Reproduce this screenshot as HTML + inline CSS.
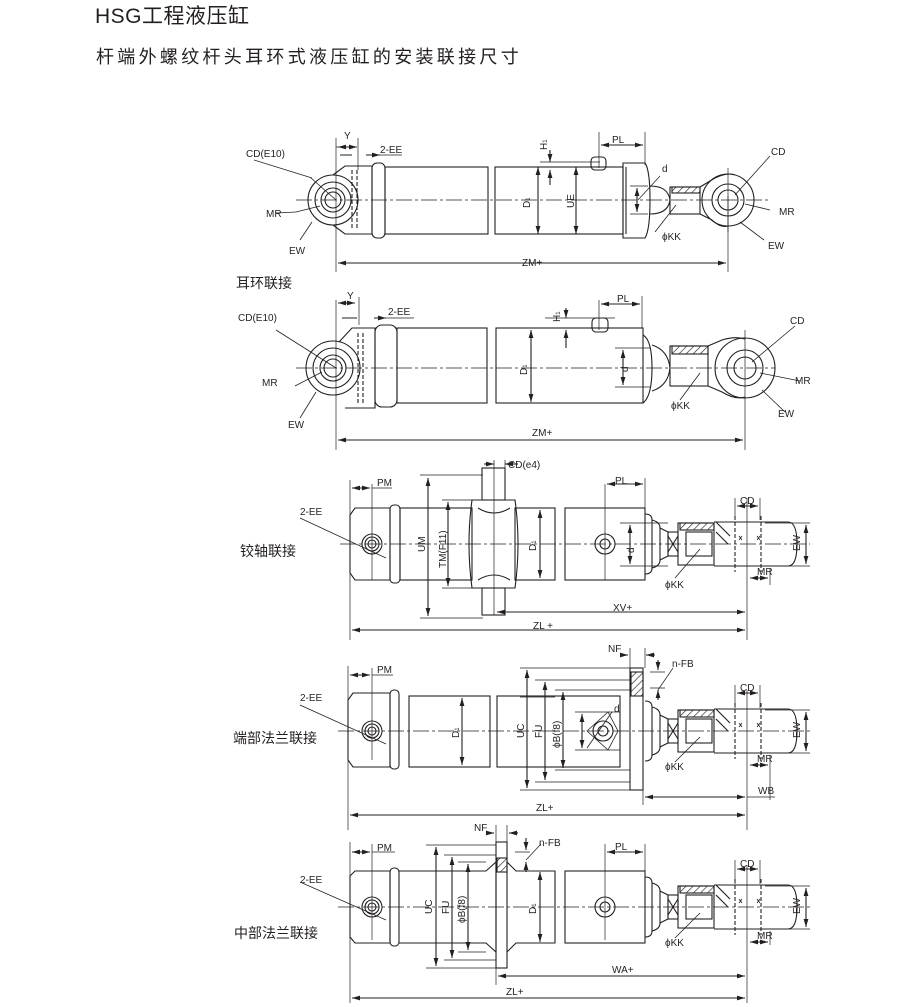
<!DOCTYPE html>
<html><head><meta charset="utf-8"><style>
html,body{margin:0;padding:0;background:#fff;}
body{width:908px;height:1007px;overflow:hidden;position:relative;font-family:"Liberation Sans","Noto Sans CJK SC",sans-serif;color:#231f20;}
.t1{position:absolute;left:95px;top:0px;font-size:21px;letter-spacing:0.5px;}
.t2{position:absolute;left:96px;top:43px;font-size:18px;letter-spacing:3.3px;}
svg{position:absolute;left:0;top:0;}
svg text{font-family:"Liberation Sans",sans-serif;font-size:10px;fill:#231f20;}
svg .cn{font-family:"Liberation Sans","Noto Sans CJK SC",sans-serif;font-size:14px;}
</style></head><body>
<div class="t1">HSG工程液压缸</div>
<div class="t2">杆端外螺纹杆头耳环式液压缸的安装联接尺寸</div>
<svg width="908" height="1007" viewBox="0 0 908 1007">
<defs>
<marker id="a" viewBox="0 0 10 6" refX="10" refY="3" markerWidth="8" markerHeight="5" orient="auto-start-reverse" markerUnits="userSpaceOnUse"><path d="M0,0L10,3L0,6z" fill="#231f20"/></marker>
<pattern id="h" width="5" height="5" patternUnits="userSpaceOnUse" patternTransform="rotate(45)"><line x1="0" y1="0" x2="0" y2="5" stroke="#231f20" stroke-width="1.3"/></pattern>
<g id="rodend" fill="none" stroke="#231f20" stroke-width="1.1">
 <path d="M645,-30 Q652,-30 652,-24 L652,24 Q652,30 645,30"/>
 <path d="M652,-24 Q660,-22 660,-16 L660,16 Q660,22 652,24"/>
 <path d="M660,-16 L668,-12 L668,12 L660,16"/>
 <rect x="668" y="-12" width="10" height="24"/>
 <path d="M668,-8 L678,8 M678,-8 L668,8"/>
 <rect x="678" y="-21" width="36" height="42"/>
 <rect x="680" y="-21" width="34" height="7" fill="url(#h)"/>
 <rect x="686" y="-12" width="26" height="24"/>
 <path d="M714,-22 L788,-22 Q797,-22 797,0 Q797,22 788,22 L714,22"/>
 <path d="M716,-22 L730,-8 M716,-12 L728,0"/>
 <path d="M735,-28 V28 M761,-28 V28" stroke-dasharray="4 2"/>
 <path d="M739,-8 l3,4 m0,-4 l-3,4 M757,-8 l3,4 m0,-4 l-3,4" stroke-width="0.8"/>
</g>
</defs>
<g fill="none" stroke="#231f20" stroke-width="1.1">
<!-- ============ Diagram 1 ============ -->
<path d="M296,200 H770" stroke-width="0.8" stroke-dasharray="16 3 3 3"/>
<circle cx="333" cy="200" r="25"/><circle cx="333" cy="200" r="18"/><circle cx="333" cy="200" r="12"/><circle cx="333" cy="200" r="8"/>
<path d="M333,175 L345,166 L372,166 L372,234 L345,234 L333,225"/>
<path d="M352,170 V230 M357,170 V230" stroke-dasharray="4 2"/>
<rect x="372" y="163" width="13" height="75" rx="5"/>
<rect x="385" y="167" width="103" height="67"/>
<rect x="495" y="167" width="128" height="67"/>
<path d="M623,163 L645,163 Q650,170 650,200 Q650,230 645,238 L623,238 Z"/>
<path d="M626,167 V234"/>
<rect x="591" y="157" width="15" height="13" rx="4"/>
<path d="M650,186 Q668,186 670,200 Q668,214 650,214"/>
<rect x="670" y="187" width="30" height="27"/>
<rect x="672" y="187" width="28" height="6" fill="url(#h)"/>
<path d="M700,187 L715,178 Q728,172 735,175 M700,214 L712,220 Q720,228 728,226"/>
<circle cx="728" cy="200" r="26"/><circle cx="728" cy="200" r="16"/><circle cx="728" cy="200" r="10"/>
<path d="M728,168 V232" stroke-width="0.7"/>
<path d="M336,138 V272 M728,196 V272" stroke-width="0.7"/>
<path d="M338,263 H726" marker-start="url(#a)" marker-end="url(#a)"/>
<path d="M336,147 H345 M358,138 V170" stroke-width="0.7"/>
<path d="M338,147 H357" marker-start="url(#a)" marker-end="url(#a)"/>
<path d="M340,155 H352 M366,155 H380" marker-end="url(#a)" stroke-width="0.9"/>
<path d="M380,155 H402" stroke-width="0.7"/>
<path d="M538,167 V234" marker-start="url(#a)" marker-end="url(#a)"/>
<path d="M576,167 V234" marker-start="url(#a)" marker-end="url(#a)"/>
<path d="M550,150 V162" marker-end="url(#a)"/><path d="M550,185 V170" marker-end="url(#a)"/>
<path d="M540,162 H600" stroke-width="0.7"/>
<path d="M599,132 V168 M645,132 V165" stroke-width="0.7"/>
<path d="M601,145 H643" marker-start="url(#a)" marker-end="url(#a)"/>
<path d="M630,186 H648 M630,214 H648" stroke-width="0.7"/>
<path d="M637,188 V212" marker-start="url(#a)" marker-end="url(#a)"/>
<path d="M638,200 L660,176" stroke-width="0.7"/>
<path d="M311,178 L336,200 M296,212 L320,206 M300,240 L312,222 M655,232 L676,205 M770,156 L735,195 M770,210 L745,204 M764,240 L740,222" stroke-width="0.8"/>
<path d="M254,160 L312,178 M276,213 L296,212" stroke-width="0.8"/>

<!-- ============ Diagram 2 ============ -->
<path d="M296,368 H775" stroke-width="0.8" stroke-dasharray="16 3 3 3"/>
<circle cx="333" cy="368" r="27"/><circle cx="333" cy="368" r="20"/><circle cx="333" cy="368" r="13"/><circle cx="333" cy="368" r="9"/>
<path d="M339,342 L352,328 L375,328 L375,408 L345,408"/>
<path d="M358,333 V405 M363,333 V405" stroke-dasharray="4 2"/>
<rect x="375" y="325" width="22" height="82" rx="7"/>
<rect x="397" y="328" width="90" height="75"/>
<rect x="496" y="328" width="147" height="75"/>
<path d="M643,335 Q652,340 652,368 Q652,396 643,403"/>
<rect x="592" y="318" width="16" height="14" rx="4"/>
<path d="M652,345 Q668,350 670,368 Q668,386 652,391"/>
<rect x="670" y="346" width="38" height="40"/>
<rect x="672" y="346" width="36" height="8" fill="url(#h)"/>
<path d="M708,346 L722,340 Q735,336 745,339 M708,386 L722,392 Q735,400 745,397"/>
<circle cx="745" cy="368" r="30"/><circle cx="745" cy="368" r="18"/><circle cx="745" cy="368" r="11"/>
<path d="M745,330 V450" stroke-width="0.7"/>
<path d="M336,300 V450" stroke-width="0.7"/>
<path d="M338,440 H743" marker-start="url(#a)" marker-end="url(#a)"/>
<path d="M338,303 H355" marker-start="url(#a)" marker-end="url(#a)"/>
<path d="M359,297 V325" stroke-width="0.7"/>
<path d="M342,318 H357 M374,318 H386" marker-end="url(#a)" stroke-width="0.9"/><path d="M386,318 H414" stroke-width="0.7"/>
<path d="M531,330 V402" marker-start="url(#a)" marker-end="url(#a)"/>
<path d="M566,308 V318" marker-end="url(#a)"/><path d="M566,348 V330" marker-end="url(#a)"/>
<path d="M545,318 H615" stroke-width="0.7"/>
<path d="M599,300 V330 M642,296 V328" stroke-width="0.7"/>
<path d="M601,304 H640" marker-start="url(#a)" marker-end="url(#a)"/>
<path d="M615,348 H650 M615,387 H650" stroke-width="0.7"/>
<path d="M623,350 V385" marker-start="url(#a)" marker-end="url(#a)"/>
<path d="M680,400 L700,373 M795,326 L752,362 M800,381 L760,373 M785,412 L762,390 M276,330 L336,368 M295,386 L322,372 M300,418 L316,392" stroke-width="0.8"/>

<!-- ============ Diagram 3 ============ -->
<path d="M340,544 H810" stroke-width="0.8" stroke-dasharray="16 3 3 3"/>
<path d="M350,515 L355,508 L390,508 L390,580 L355,580 L350,573 Z"/>
<rect x="390" y="505" width="10" height="78" rx="4"/>
<rect x="400" y="508" width="72" height="72"/>
<path d="M472,500 Q466,544 472,588 L515,588 Q521,544 515,500 Z"/>
<path d="M478,508 Q494,518 510,508 M478,580 Q494,570 510,580"/>
<rect x="482" y="468" width="23" height="32"/><rect x="482" y="588" width="23" height="27"/>
<rect x="515" y="508" width="40" height="72"/>
<rect x="565" y="508" width="80" height="72"/>
<circle cx="372" cy="544" r="10"/><circle cx="372" cy="544" r="7"/><circle cx="372" cy="544" r="4"/>
<circle cx="605" cy="544" r="10"/><circle cx="605" cy="544" r="5"/>
<use href="#rodend" transform="translate(0,544)"/>
<path d="M350,480 V640 M372,484 V580 M605,484 V580 M645,478 V512 M747,498 V640 M494,460 V615 M505,460 V470" stroke-width="0.7"/>
<path d="M352,488 H370" marker-start="url(#a)" marker-end="url(#a)"/><path d="M372,488 H392" stroke-width="0.7"/>
<path d="M484,464 H494" marker-end="url(#a)"/><path d="M518,464 H505" marker-end="url(#a)"/>
<path d="M420,475 H483 M420,618 H483 M442,500 H472 M442,588 H472" stroke-width="0.7"/>
<path d="M428,478 V616" marker-start="url(#a)" marker-end="url(#a)"/>
<path d="M448,502 V586" marker-start="url(#a)" marker-end="url(#a)"/>
<path d="M540,510 V578" marker-start="url(#a)" marker-end="url(#a)"/>
<path d="M607,484 H643" marker-start="url(#a)" marker-end="url(#a)"/>
<path d="M620,523 H668 M620,566 H668" stroke-width="0.7"/>
<path d="M630,525 V564" marker-start="url(#a)" marker-end="url(#a)"/>
<path d="M735,498 V520 M760,498 V520 M765,523 H810 M765,566 H810 M770,568 V585" stroke-width="0.7"/>
<path d="M737,506 H758" marker-start="url(#a)" marker-end="url(#a)"/>
<path d="M806,525 V564" marker-start="url(#a)" marker-end="url(#a)"/>
<path d="M750,578 H768" marker-start="url(#a)" marker-end="url(#a)"/>
<path d="M497,612 H745" marker-start="url(#a)" marker-end="url(#a)"/>
<path d="M352,630 H745" marker-start="url(#a)" marker-end="url(#a)"/>
<path d="M300,518 L386,558 M675,578 L700,549" stroke-width="0.8"/>

<!-- ============ Diagram 4 ============ -->
<path d="M338,731 H810" stroke-width="0.8" stroke-dasharray="16 3 3 3"/>
<path d="M348,700 L353,693 L390,693 L390,767 L353,767 L348,760 Z"/>
<rect x="390" y="690" width="9" height="79" rx="4"/>
<rect x="409" y="696" width="81" height="71"/>
<rect x="497" y="696" width="123" height="71"/>
<rect x="630" y="668" width="13" height="122"/>
<rect x="631" y="672" width="12" height="24" fill="url(#h)"/>
<path d="M587,731 L608,712 L618,731 L608,750 Z" stroke-width="0.8"/>
<circle cx="603" cy="731" r="10"/><circle cx="603" cy="731" r="5"/>
<circle cx="372" cy="731" r="10"/><circle cx="372" cy="731" r="7"/><circle cx="372" cy="731" r="4"/>
<use href="#rodend" transform="translate(0,731)"/>
<path d="M348,666 V830 M372,668 V760 M643,668 V805 M747,690 V830 M630,648 V668 M645,648 V668" stroke-width="0.7"/>
<path d="M350,675 H370" marker-start="url(#a)" marker-end="url(#a)"/><path d="M372,675 H393" stroke-width="0.7"/>
<path d="M520,668 H630 M535,680 H630 M555,690 H630 M555,770 H630 M535,782 H630 M520,790 H630 M555,697 H520" stroke-width="0.7"/>
<path d="M527,670 V788" marker-start="url(#a)" marker-end="url(#a)"/>
<path d="M545,682 V780" marker-start="url(#a)" marker-end="url(#a)"/>
<path d="M563,692 V768" marker-start="url(#a)" marker-end="url(#a)"/>
<path d="M462,698 V765" marker-start="url(#a)" marker-end="url(#a)"/>
<path d="M575,712 H620 M575,750 H620" stroke-width="0.7"/>
<path d="M582,714 V748" marker-start="url(#a)" marker-end="url(#a)"/>
<path d="M620,655 H628" marker-end="url(#a)"/><path d="M655,655 H646" marker-end="url(#a)"/>
<path d="M650,672 H665 M650,688 H665" stroke-width="0.7"/>
<path d="M658,660 V670" marker-end="url(#a)"/><path d="M658,700 V690" marker-end="url(#a)"/>
<path d="M658,690 L673,668" stroke-width="0.7"/>
<path d="M735,685 V708 M760,685 V708 M765,710 H810 M765,753 H810 M770,755 V800" stroke-width="0.7"/>
<path d="M737,693 H758" marker-start="url(#a)" marker-end="url(#a)"/>
<path d="M806,712 V751" marker-start="url(#a)" marker-end="url(#a)"/>
<path d="M750,765 H768" marker-start="url(#a)" marker-end="url(#a)"/>
<path d="M645,797 H745" marker-start="url(#a)" marker-end="url(#a)"/><path d="M747,797 H775" stroke-width="0.7"/>
<path d="M350,815 H745" marker-start="url(#a)" marker-end="url(#a)"/>
<path d="M300,705 L386,744 M675,762 L700,737 M587,748 L612,712" stroke-width="0.8"/>

<!-- ============ Diagram 5 ============ -->
<path d="M338,907 H810" stroke-width="0.8" stroke-dasharray="16 3 3 3"/>
<path d="M350,876 L355,871 L390,871 L390,943 L355,943 L350,937 Z"/>
<rect x="390" y="868" width="9" height="78" rx="4"/>
<path d="M399,871 H486 L496,862 V952 L486,943 H399"/>
<rect x="496" y="842" width="11" height="126"/>
<rect x="497" y="858" width="10" height="14" fill="url(#h)"/>
<path d="M507,862 L516,871 H555 V943 H516 L507,952"/>
<rect x="565" y="871" width="80" height="72"/>
<circle cx="372" cy="907" r="10"/><circle cx="372" cy="907" r="7"/><circle cx="372" cy="907" r="4"/>
<circle cx="605" cy="907" r="10"/><circle cx="605" cy="907" r="5"/>
<use href="#rodend" transform="translate(0,907)"/>
<path d="M350,842 V1003 M372,844 V940 M605,844 V940 M645,844 V875 M747,865 V1003 M496,825 V842 M507,825 V842 M496,968 V985" stroke-width="0.7"/>
<path d="M352,852 H370" marker-start="url(#a)" marker-end="url(#a)"/><path d="M372,852 H395" stroke-width="0.7"/>
<path d="M426,845 H496 M444,855 H496 M458,862 H486 M458,952 H486 M444,960 H496 M426,968 H496 M515,852 H530" stroke-width="0.7"/>
<path d="M436,847 V966" marker-start="url(#a)" marker-end="url(#a)"/>
<path d="M452,857 V958" marker-start="url(#a)" marker-end="url(#a)"/>
<path d="M468,864 V950" marker-start="url(#a)" marker-end="url(#a)"/>
<path d="M540,872 V942" marker-start="url(#a)" marker-end="url(#a)"/>
<path d="M607,852 H643" marker-start="url(#a)" marker-end="url(#a)"/>
<path d="M486,833 H494" marker-end="url(#a)"/><path d="M518,833 H509" marker-end="url(#a)"/>
<path d="M526,838 V850" marker-end="url(#a)"/><path d="M526,872 V862" marker-end="url(#a)"/>
<path d="M526,860 L541,844" stroke-width="0.7"/>
<path d="M735,860 V884 M760,860 V884 M765,886 H810 M765,929 H810 M770,931 V945" stroke-width="0.7"/>
<path d="M737,869 H758" marker-start="url(#a)" marker-end="url(#a)"/>
<path d="M806,888 V927" marker-start="url(#a)" marker-end="url(#a)"/>
<path d="M750,942 H768" marker-start="url(#a)" marker-end="url(#a)"/>
<path d="M498,976 H745" marker-start="url(#a)" marker-end="url(#a)"/>
<path d="M352,998 H745" marker-start="url(#a)" marker-end="url(#a)"/>
<path d="M300,882 L386,920 M675,938 L700,913" stroke-width="0.8"/>
</g>

<g>
<text x="344" y="139">Y</text><text x="380" y="153">2-EE</text>
<text x="246" y="157">CD(E10)</text><text x="266" y="217">MR</text><text x="289" y="254">EW</text>
<text x="612" y="143">PL</text><text x="662" y="172">d</text><text x="771" y="155">CD</text>
<text x="779" y="215">MR</text><text x="768" y="249">EW</text><text x="662" y="240">ϕKK</text>
<text x="522" y="266">ZM+</text>
<text transform="translate(547,150) rotate(-90)">H<tspan font-size="6">1</tspan></text>
<text transform="translate(530,208) rotate(-90)">D<tspan font-size="6">1</tspan></text>
<text transform="translate(574,208) rotate(-90)">UE</text>
<text class="cn" x="236" y="288">耳环联接</text>
<text x="347" y="299">Y</text><text x="388" y="315">2-EE</text>
<text x="238" y="321">CD(E10)</text><text x="262" y="386">MR</text><text x="288" y="428">EW</text>
<text x="617" y="302">PL</text><text x="790" y="324">CD</text>
<text x="795" y="384">MR</text><text x="778" y="417">EW</text><text x="671" y="409">ϕKK</text>
<text x="532" y="436">ZM+</text>
<text transform="translate(560,322) rotate(-90)">H<tspan font-size="6">1</tspan></text>
<text transform="translate(527,375) rotate(-90)">D<tspan font-size="6">1</tspan></text>
<text transform="translate(628,372) rotate(-90)">d</text>
<text x="377" y="486">PM</text><text x="508" y="468">CD(e4)</text><text x="615" y="484">PL</text>
<text x="300" y="515">2-EE</text><text x="740" y="504">CD</text><text x="757" y="575">MR</text>
<text x="665" y="588">ϕKK</text><text x="613" y="611">XV+</text><text x="533" y="629">ZL +</text>
<text transform="translate(425,552) rotate(-90)">UM</text>
<text transform="translate(446,568) rotate(-90)">TM(F11)</text>
<text transform="translate(536,551) rotate(-90)">D<tspan font-size="6">1</tspan></text>
<text transform="translate(634,553) rotate(-90)">d</text>
<text transform="translate(800,551) rotate(-90)">EW</text>
<text class="cn" x="240" y="556">铰轴联接</text>
<text x="377" y="673">PM</text><text x="608" y="652">NF</text><text x="672" y="667">n-FB</text>
<text x="300" y="701">2-EE</text><text x="740" y="691">CD</text><text x="757" y="762">MR</text>
<text x="758" y="794">WB</text><text x="665" y="770">ϕKK</text><text x="536" y="811">ZL+</text>
<text x="614" y="712">d</text>
<text transform="translate(524,738) rotate(-90)">UC</text>
<text transform="translate(542,738) rotate(-90)">FU</text>
<text transform="translate(560,748) rotate(-90)">ϕB(f8)</text>
<text transform="translate(459,738) rotate(-90)">D<tspan font-size="6">1</tspan></text>
<text transform="translate(800,738) rotate(-90)">EW</text>
<text class="cn" x="233" y="743">端部法兰联接</text>
<text x="377" y="851">PM</text><text x="474" y="831">NF</text><text x="539" y="846">n-FB</text>
<text x="615" y="850">PL</text>
<text x="300" y="883">2-EE</text><text x="740" y="867">CD</text><text x="757" y="939">MR</text>
<text x="665" y="946">ϕKK</text><text x="612" y="973">WA+</text><text x="506" y="995">ZL+</text>
<text transform="translate(432,914) rotate(-90)">UC</text>
<text transform="translate(449,914) rotate(-90)">FU</text>
<text transform="translate(465,923) rotate(-90)">ϕB(f8)</text>
<text transform="translate(536,914) rotate(-90)">D<tspan font-size="6">1</tspan></text>
<text transform="translate(800,914) rotate(-90)">EW</text>
<text class="cn" x="234" y="938">中部法兰联接</text>
</g>
</svg>
</body></html>
